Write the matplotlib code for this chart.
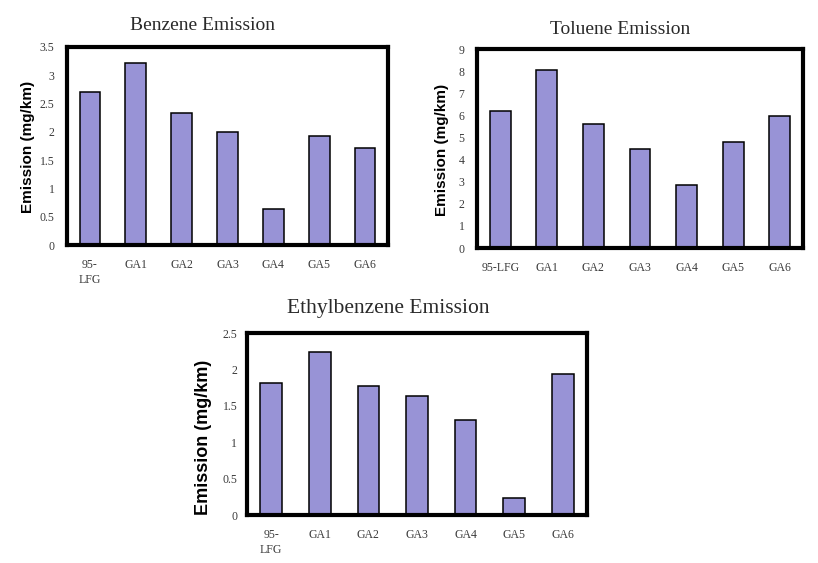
import matplotlib
matplotlib.use("Agg")
import matplotlib.pyplot as plt
import numpy as np

categories_b = ["95-\nLFG", "GA1", "GA2", "GA3", "GA4", "GA5", "GA6"]
categories_t = ["95-LFG", "GA1", "GA2", "GA3", "GA4", "GA5", "GA6"]
benzene = [2.70, 3.21, 2.33, 2.00, 0.63, 1.93, 1.72]
toluene = [6.18, 8.07, 5.63, 4.48, 2.87, 4.78, 5.99]
ethylbenzene = [1.82, 2.24, 1.77, 1.64, 1.30, 0.24, 1.93]

benz_ticks = [0, 0.5, 1, 1.5, 2, 2.5, 3, 3.5]
tol_ticks = list(range(0, 10))
eth_ticks = [0, 0.5, 1, 1.5, 2, 2.5]

BAR = "#9893d6"
SERIF = ["Liberation Serif", "DejaVu Serif"]
SANS = ["Liberation Sans", "DejaVu Sans"]

fig = plt.figure(figsize=(8.18, 5.63), dpi=100)
W, H = 818, 563

def make(rect_px, values, cats, ticks, ymax, title, title_xy, title_fs,
         ylab_xy, ylab_fs, tick_fs, xpad, ypad):
    l, t, r, b = rect_px
    ax = fig.add_axes([l / W, 1 - b / H, (r - l) / W, (b - t) / H])
    x = np.arange(len(values))
    ax.bar(x, values, width=0.45, color=BAR, edgecolor="black", linewidth=1.1, zorder=2)
    ax.set_xlim(-0.5, len(values) - 0.5)
    ax.set_ylim(0, ymax)
    ax.set_yticks(ticks)
    ax.set_yticklabels([("%g" % v) for v in ticks], fontfamily=SERIF, fontsize=tick_fs, color="#3a3a3a")
    ax.set_xticks(x)
    ax.set_xticklabels(cats, fontfamily=SERIF, fontsize=tick_fs, color="#3a3a3a", linespacing=1.3)
    ax.tick_params(axis="x", length=0, pad=xpad)
    ax.tick_params(axis="y", length=0, pad=ypad)
    for s in ax.spines.values():
        s.set_linewidth(3.0)
        s.set_color("black")
    fig.text(title_xy[0] / W, 1 - title_xy[1] / H, title, fontfamily=SERIF, fontsize=title_fs,
             ha="center", va="center", color="#2a2a2a")
    fig.text(ylab_xy[0] / W, 1 - ylab_xy[1] / H, "Emission (mg/km)", fontfamily=SANS,
             fontsize=ylab_fs, fontweight="bold", rotation=90, ha="center", va="center")
    return ax

make((67, 47, 388, 245), benzene, categories_b, benz_ticks, 3.5,
     "Benzene Emission", (203, 25), 14, (28, 147), 11, 8.5, 10, 9)
make((477, 49, 803, 248), toluene, categories_t, tol_ticks, 9,
     "Toluene Emission", (620, 30), 14, (442, 150), 11, 8.5, 10, 9)
make((247, 333, 587, 515), ethylbenzene, categories_b, eth_ticks, 2.5,
     "Ethylbenzene Emission", (388, 308), 15.5, (203, 437), 13, 8.5, 10, 7)

fig.savefig("out.png", dpi=100)
